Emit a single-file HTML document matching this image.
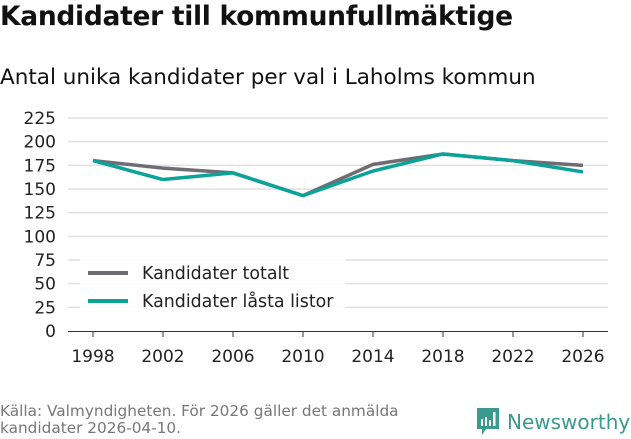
<!DOCTYPE html>
<html><head><meta charset="utf-8"><style>
body{margin:0;width:631px;height:439px;background:#fff;font-family:"Liberation Sans","DejaVu Sans",sans-serif;overflow:hidden;position:relative}
.t{position:absolute;left:0;top:1px;font-size:26.5px;font-weight:bold;color:#111;font-family:"DejaVu Sans",sans-serif;letter-spacing:-0.3px}
.s{position:absolute;left:0;top:65px;font-size:21.5px;color:#111;font-family:"DejaVu Sans",sans-serif}
.src{position:absolute;left:0;top:403px;font-size:15.3px;color:#777;line-height:17px;font-family:"DejaVu Sans",sans-serif}
.logo{position:absolute;left:476px;top:406px;color:#3a9a8e;font-size:20px;font-family:"DejaVu Sans",sans-serif;font-weight:500}
</style></head><body>
<div class="t">Kandidater till kommunfullmäktige</div>
<div class="s">Antal unika kandidater per val i Laholms kommun</div>
<svg id="c" width="631" height="400" style="position:absolute;left:0;top:0"></svg>
<div class="src">Källa: Valmyndigheten. För 2026 gäller det anmälda<br>kandidater 2026-04-10.</div>
<div class="logo"><svg width="24" height="30" style="vertical-align:-7px;margin-right:7px"><path d="M1 2h22v21h-13l-4 6v-6h-5z" fill="#3a9a8e"/><rect x="5" y="13" width="2" height="7" fill="#fff"/><rect x="9" y="11" width="2" height="9" fill="#fff"/><rect x="13" y="14" width="2" height="6" fill="#fff"/><rect x="17" y="6" width="2.5" height="14" fill="#fff"/></svg>Newsworthy</div>
<script>
const years=[1998,2002,2006,2010,2014,2018,2022,2026];
const totalt=[180,172,167,143,176,187,180,175];
const lasta=[180,160,167,143,169,187,180,168];
const yTicks=[0,25,50,75,100,125,150,175,200,225];
const NS="http://www.w3.org/2000/svg";
const svg=document.getElementById('c');
const x=v=>93+(v-1998)*(490/28);
const y=v=>331-v*(213/225);
function mk(t,a){const e=document.createElementNS(NS,t);for(const k in a)e.setAttribute(k,a[k]);svg.appendChild(e);return e;}
yTicks.forEach(v=>{
 if(v>0){const l=mk('line',{x1:68,x2:608,y1:y(v),y2:y(v),stroke:'#e0e0e0','stroke-width':1.5});
 
 }
 const t=mk('text',{x:56,y:y(v)+6,'text-anchor':'end','font-size':17,fill:'#222','font-family':'DejaVu Sans, sans-serif'});t.textContent=v;
 
 
});
const ax=mk('line',{x1:68,x2:608,y1:331.5,y2:331.5,stroke:'#333','stroke-width':1});


years.forEach(v=>{
 const tk=mk('line',{x1:x(v),x2:x(v),y1:331,y2:337,stroke:'#333'});
 
 
 const t=mk('text',{x:x(v),y:362,'text-anchor':'middle','font-size':17,fill:'#222','font-family':'DejaVu Sans, sans-serif'});t.textContent=v;
 
 
});
function line(d,c,n){const p=mk('polyline',{points:d.map((v,i)=>x(years[i])+','+y(v)).join(' '),fill:'none',stroke:c,'stroke-width':3.5,'stroke-linejoin':'round'});
 
 }
line(totalt,'#6f6c73','series-kandidater-totalt');
line(lasta,'#0aa39a','series-kandidater-lasta-listor');
const bg=mk('rect',{x:80,y:258,width:265,height:62,fill:'#fff',opacity:0.9});


[['Kandidater totalt','#6f6c73',273],['Kandidater låsta listor','#0aa39a',301]].forEach(([n,c,yy])=>{
 const l=mk('line',{x1:88,x2:128,y1:yy,y2:yy,stroke:c,'stroke-width':4});
 
 
 const t=mk('text',{x:142,y:yy+6,'font-size':17.4,fill:'#222','font-family':'DejaVu Sans, sans-serif'});t.textContent=n;
 
 
});
</script>
</body></html>
